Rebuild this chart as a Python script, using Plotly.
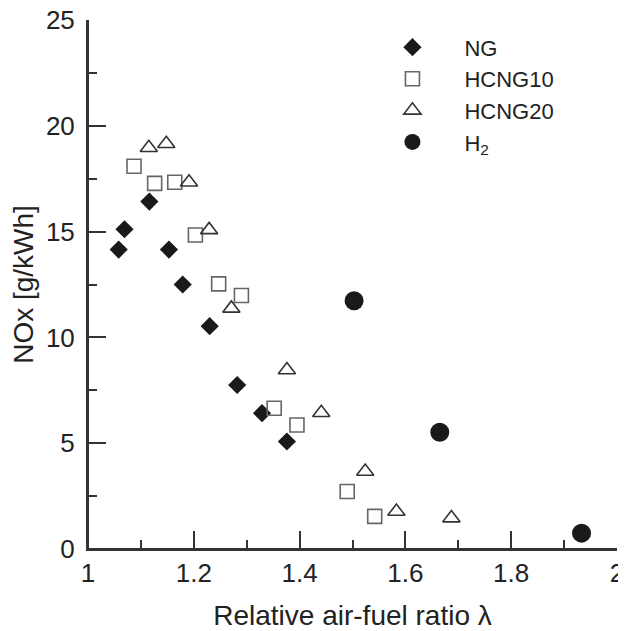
import plotly.graph_objects as go

# NG
ng_x = [1.058, 1.069, 1.116, 1.153, 1.179, 1.230, 1.282, 1.329, 1.376]
ng_y = [14.15, 15.11, 16.42, 14.15, 12.50, 10.53, 7.75, 6.42, 5.08]
# HCNG10
h10_x = [1.087, 1.126, 1.164, 1.203, 1.247, 1.290, 1.352, 1.395, 1.490, 1.542]
h10_y = [18.09, 17.28, 17.33, 14.84, 12.53, 11.98, 6.65, 5.86, 2.72, 1.54]
# HCNG20
h20_x = [1.115, 1.148, 1.191, 1.229, 1.271, 1.376, 1.441, 1.524, 1.583, 1.687]
h20_y = [18.96, 19.15, 17.33, 15.08, 11.37, 8.46, 6.44, 3.66, 1.77, 1.46]
# H2
h2_x = [1.503, 1.665, 1.933]
h2_y = [11.73, 5.52, 0.75]

x_ticks = [1, 1.2, 1.4, 1.6, 1.8, 2]
x_ticklabels = ["1", "1.2", "1.4", "1.6", "1.8", "2"]
y_ticks = [0, 5, 10, 15, 20, 25]

FONT = "Liberation Sans, Arial, sans-serif"
AX = "#333333"
TXT = "#222222"

fig = go.Figure()
fig.add_trace(go.Scatter(x=ng_x, y=ng_y, mode="markers", name="NG",
                         marker=dict(symbol="diamond", size=14, color="#1a1a1a",
                                     line=dict(width=0))))
fig.add_trace(go.Scatter(x=h10_x, y=h10_y, mode="markers", name="HCNG10",
                         marker=dict(symbol="square-open", size=14, color="#666666",
                                     line=dict(width=1.6))))
fig.add_trace(go.Scatter(x=h20_x, y=h20_y, mode="markers", name="HCNG20",
                         marker=dict(symbol="triangle-up-open", size=15, color="#333333",
                                     line=dict(width=1.6))))
fig.add_trace(go.Scatter(x=h2_x, y=h2_y, mode="markers", name="H<sub>2</sub>",
                         marker=dict(symbol="circle", size=19, color="#1a1a1a",
                                     line=dict(width=0))))

# axis lines (left and bottom frame of the plot area)
fig.add_shape(type="line", xref="paper", yref="paper", x0=0, x1=0, y0=0, y1=1,
              line=dict(color=AX, width=2), layer="above")
fig.add_shape(type="line", xref="paper", yref="paper", x0=0, x1=1, y0=0, y1=0,
              line=dict(color=AX, width=2), layer="above")

fig.update_layout(
    width=618, height=623,
    margin=dict(l=80, r=9, t=12, b=82),
    paper_bgcolor="white", plot_bgcolor="white",
    font=dict(family=FONT, color=TXT),
    showlegend=True,
    legend=dict(x=0.515, y=0.988, xanchor="left", yanchor="top",
                bgcolor="rgba(0,0,0,0)", font=dict(family=FONT, size=22, color=TXT),
                itemwidth=94),
    xaxis=dict(range=[1, 2], tickvals=x_ticks, ticktext=x_ticklabels,
               showline=True, linecolor=AX, linewidth=2, showgrid=False, zeroline=False,
               ticks="inside", ticklen=18, tickwidth=1.5, tickcolor=AX,
               tickfont=dict(family=FONT, size=26, color=TXT),
               ticklabeloverflow="allow",
               minor=dict(dtick=0.1, ticks="inside", ticklen=9, tickwidth=1.5, tickcolor=AX),
               title=dict(text="Relative air-fuel ratio λ", font=dict(family=FONT, size=28, color=TXT),
                          standoff=18),
               automargin=False),
    yaxis=dict(range=[0, 25], tickvals=y_ticks,
               showline=True, linecolor=AX, linewidth=2, showgrid=False, zeroline=False,
               ticks="inside", ticklen=18, tickwidth=1.5, tickcolor=AX,
               tickfont=dict(family=FONT, size=26, color=TXT),
               ticklabeloverflow="allow",
               minor=dict(dtick=2.5, ticks="inside", ticklen=9, tickwidth=1.5, tickcolor=AX),
               title=dict(text="NOx [g/kWh]", font=dict(family=FONT, size=28, color=TXT),
                          standoff=12),
               ticklabelstandoff=6,
               automargin=False),
)

fig.write_html("out.html")
